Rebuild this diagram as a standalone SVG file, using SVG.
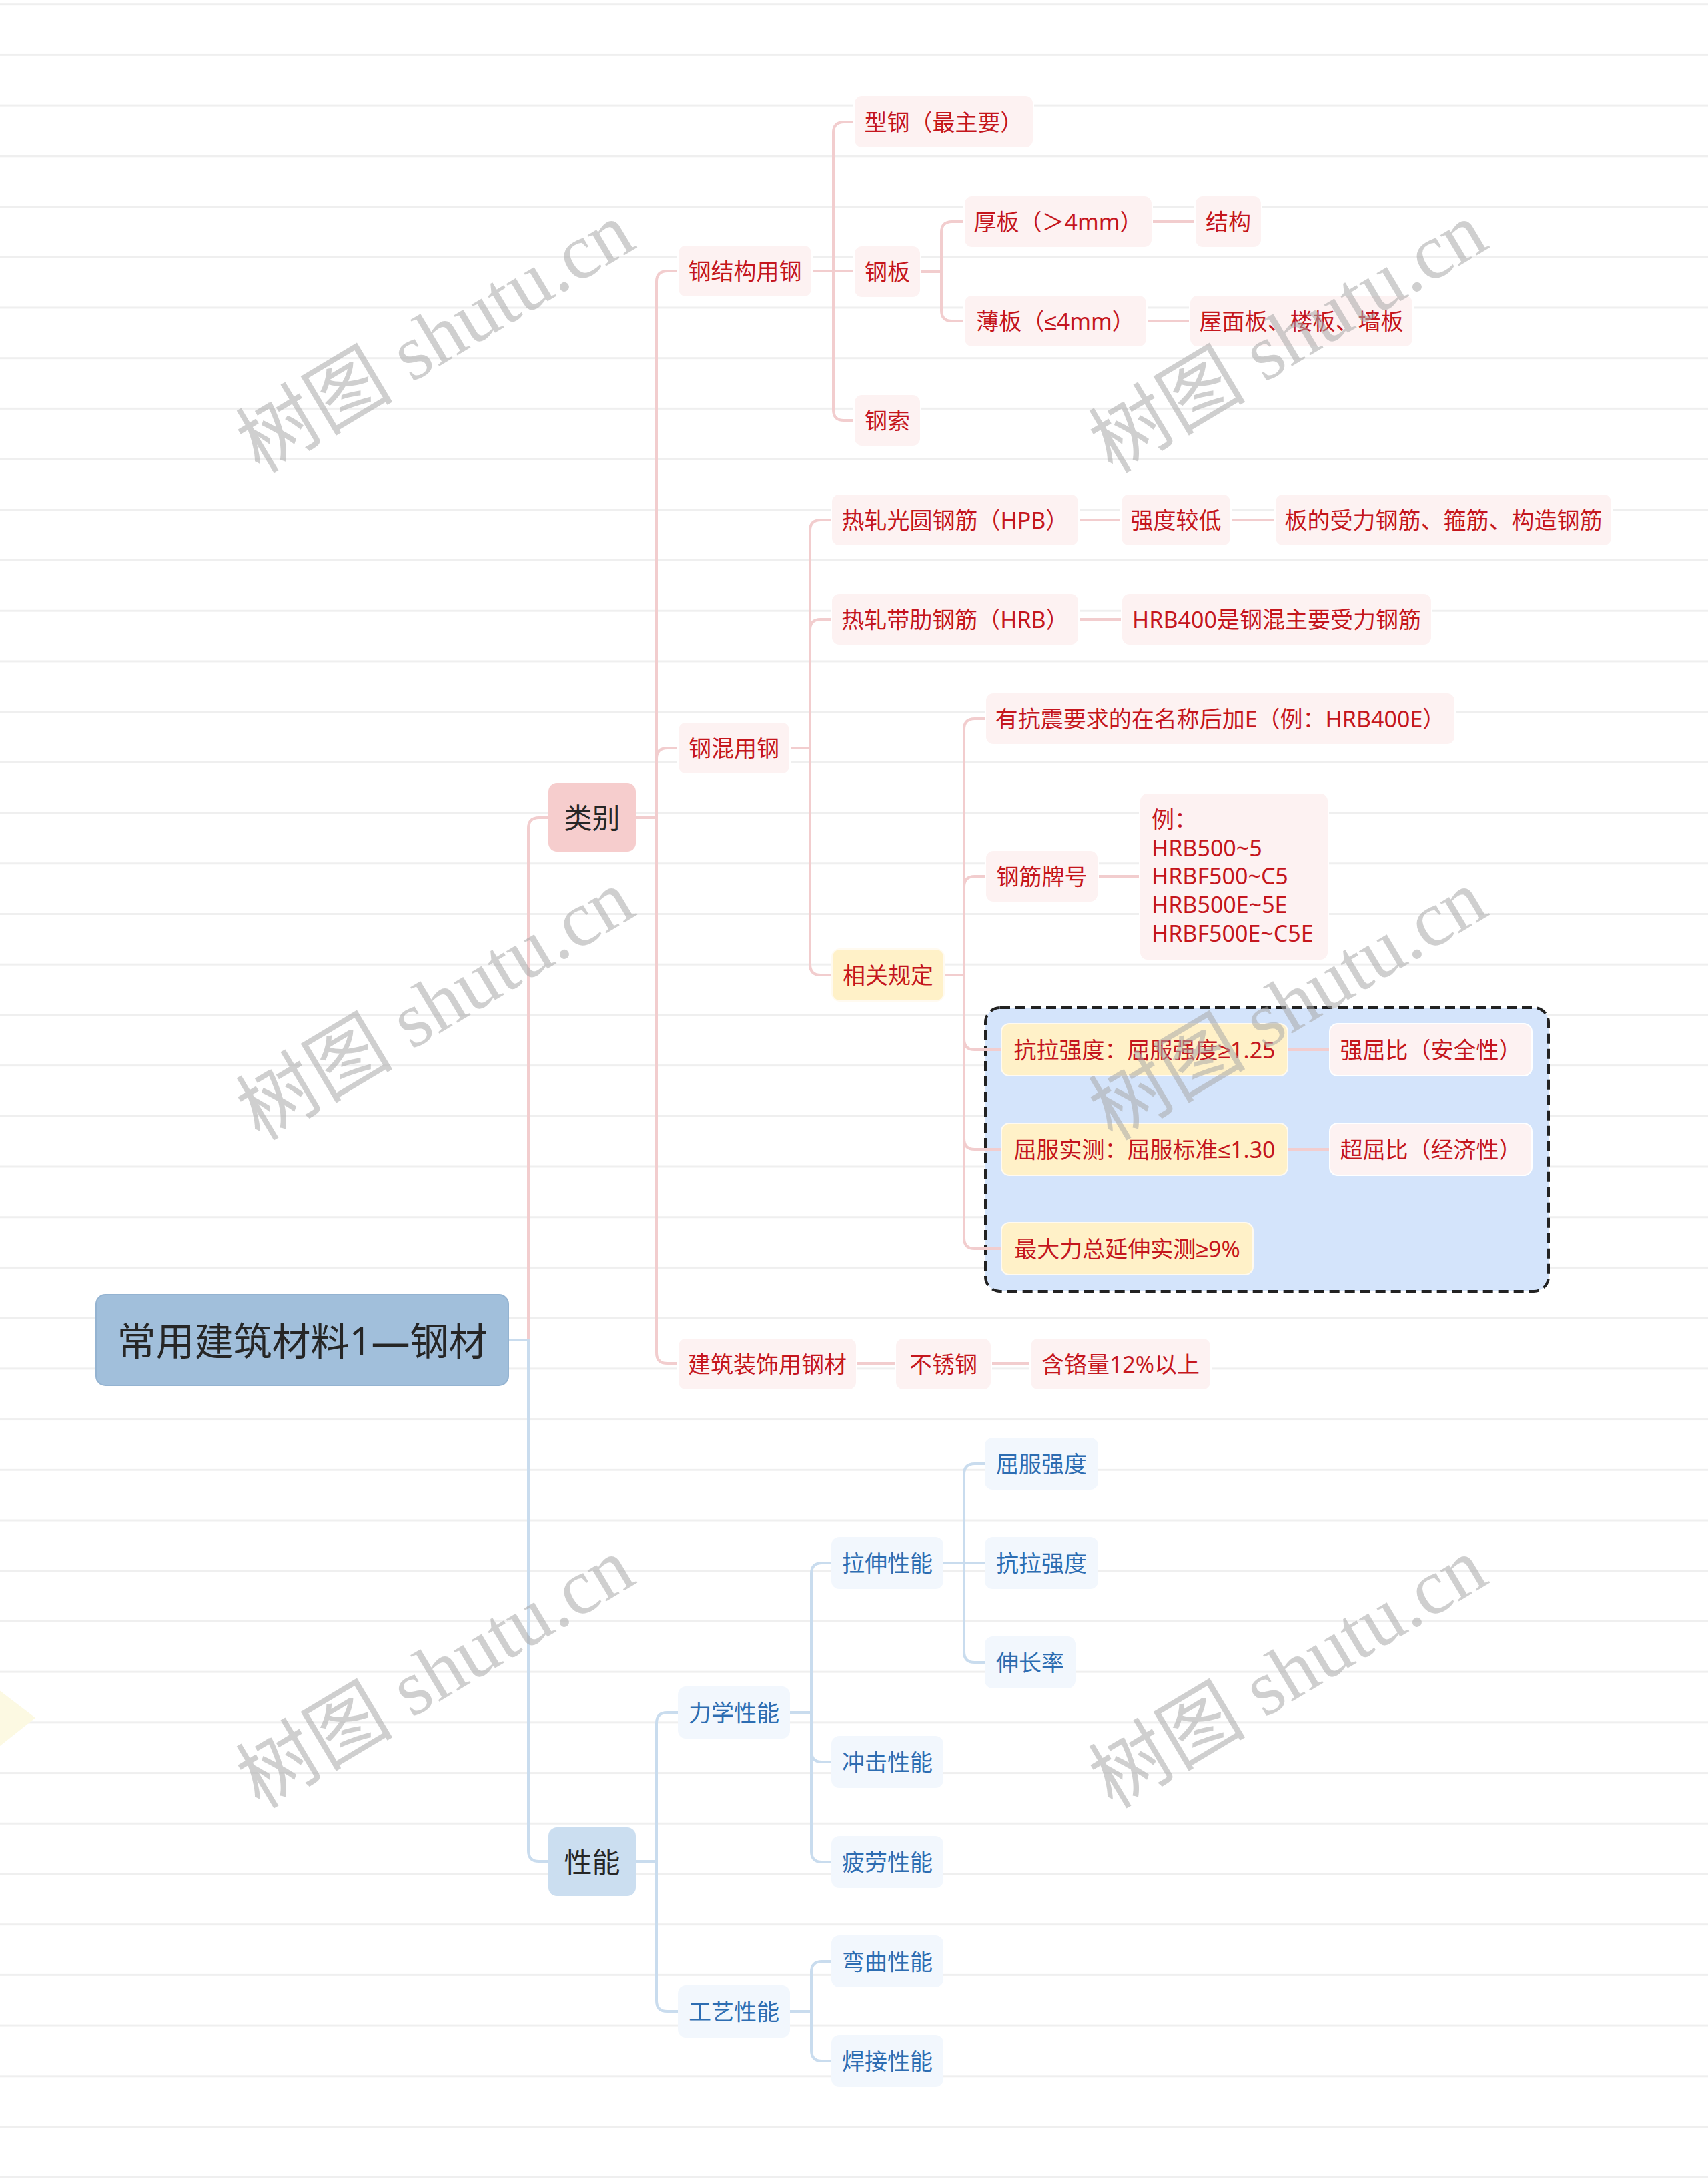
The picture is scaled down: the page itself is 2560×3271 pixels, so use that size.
<svg xmlns="http://www.w3.org/2000/svg" width="2560" height="3271" viewBox="0 0 2560 3271">
<defs>
<pattern id="rows" patternUnits="userSpaceOnUse" x="0" y="5.2" width="2560" height="75.71">
<rect x="0" y="0" width="2560" height="3" fill="#efefef"/>
</pattern>
<style>
text{font-family:"Noto Sans","Liberation Sans","Noto Sans CJK SC",sans-serif;dominant-baseline:central;text-anchor:middle}
.f34{font-size:34px}
.r{fill:#c5161d}
.b{fill:#2d6db2}
.k{fill:#262626}
.np{fill:#fdf2f2;stroke:#ffffff;stroke-width:2}
.ny{fill:#fff1c8;stroke:#fffaf0;stroke-width:2}
.nb{fill:#f2f7fd}
.cr{fill:none;stroke:#f2cdce;stroke-width:4}
.cb{fill:none;stroke:#c9dcee;stroke-width:4}
.wm{font-family:"Liberation Serif","Noto Sans CJK SC",serif;font-size:118px;fill:#a8a8a8;fill-opacity:0.55;text-anchor:middle;dominant-baseline:alphabetic}
</style>
</defs>
<g id="background">
<rect x="0" y="0" width="2560" height="3271" fill="#ffffff"/>
<rect x="0" y="0" width="2560" height="3271" fill="url(#rows)"/>
<polygon points="-10,2526 53,2574 -10,2624" fill="#fcf9e2"/>
</g>
<g id="group-box">
<rect x="1477" y="1510" width="844" height="425" rx="22" fill="#d4e4fb" stroke="#222222" stroke-width="4" stroke-dasharray="15 8"/>
</g>
<g id="connectors">
<path class="cr" d="M792 2008 V1241 Q792 1225 808 1225 H822"/>
<path class="cb" d="M762 2008 H792 V2773 Q792 2789 808 2789 H822"/>
<path class="cr" d="M953 1225 H984 V422 Q984 406 1000 406 H1016"/>
<path class="cr" d="M984 1225 V1137 Q984 1121 1000 1121 H1016"/>
<path class="cr" d="M984 1225 V2027 Q984 2043 1000 2043 H1016"/>
<path class="cr" d="M1217 406 H1249 V199 Q1249 183 1265 183 H1280"/>
<path class="cr" d="M1249 406 H1280"/>
<path class="cr" d="M1249 406 V614 Q1249 630 1265 630 H1280"/>
<path class="cr" d="M1380 407 H1411 V348 Q1411 332 1427 332 H1445"/>
<path class="cr" d="M1411 407 V465 Q1411 481 1427 481 H1445"/>
<path class="cr" d="M1727 332 H1791"/>
<path class="cr" d="M1719 481 H1783"/>
<path class="cr" d="M1184 1121 H1214 V795 Q1214 779 1230 779 H1246"/>
<path class="cr" d="M1214 1121 V944 Q1214 928 1230 928 H1246"/>
<path class="cr" d="M1214 1121 V1445 Q1214 1461 1230 1461 H1247"/>
<path class="cr" d="M1617 779 H1680"/>
<path class="cr" d="M1845 779 H1911"/>
<path class="cr" d="M1617 928 H1681"/>
<path class="cr" d="M1415 1461 H1445 V1093 Q1445 1077 1461 1077 H1477"/>
<path class="cr" d="M1445 1461 V1329 Q1445 1313 1461 1313 H1477"/>
<path class="cr" d="M1445 1461 V1557 Q1445 1573 1461 1573 H1501"/>
<path class="cr" d="M1445 1461 V1706 Q1445 1722 1461 1722 H1501"/>
<path class="cr" d="M1445 1461 V1855 Q1445 1871 1461 1871 H1501"/>
<path class="cr" d="M1646 1313 H1708"/>
<path class="cr" d="M1930 1573 H1993"/>
<path class="cr" d="M1930 1722 H1993"/>
<path class="cr" d="M1284 2043 H1342"/>
<path class="cr" d="M1486 2043 H1544"/>
<path class="cb" d="M953 2789 H984 V2582 Q984 2566 1000 2566 H1016"/>
<path class="cb" d="M984 2789 V2998 Q984 3014 1000 3014 H1016"/>
<path class="cb" d="M1184 2566 H1216 V2358 Q1216 2342 1232 2342 H1246"/>
<path class="cb" d="M1216 2566 V2624 Q1216 2640 1232 2640 H1246"/>
<path class="cb" d="M1216 2566 V2774 Q1216 2790 1232 2790 H1246"/>
<path class="cb" d="M1414 2342 H1445 V2209 Q1445 2193 1461 2193 H1476"/>
<path class="cb" d="M1445 2342 H1476"/>
<path class="cb" d="M1445 2342 V2475 Q1445 2491 1461 2491 H1476"/>
<path class="cb" d="M1184 3014 H1216 V2955 Q1216 2939 1232 2939 H1246"/>
<path class="cb" d="M1216 3014 V3072 Q1216 3088 1232 3088 H1246"/>
</g>
<g id="root"><rect x="144" y="1940" width="618" height="136" rx="14" fill="#a1bfdb" stroke="#94b3d1" stroke-width="2"/><text x="453" y="2008" class="k" style="font-size:58px">常用建筑材料1—钢材</text></g>
<g id="leibie"><rect x="822" y="1173" width="131" height="103" rx="13" fill="#f6cdcd"/><text x="887.5" y="1224.5" class="k" style="font-size:42px">类别</text></g>
<g id="xingneng"><rect x="822" y="2738" width="131" height="103" rx="13" fill="#cbdef0"/><text x="887.5" y="2789.5" class="k" style="font-size:42px">性能</text></g>
<g id="n-gjg"><rect class="np" x="1016" y="367" width="201" height="78" rx="12"/><text class="r f34" x="1116.5" y="406">钢结构用钢</text></g>
<g id="n-xg"><rect class="np" x="1280" y="143" width="269" height="79" rx="12"/><text class="r f34" x="1414.5" y="182.5">型钢（最主要）</text></g>
<g id="n-gb"><rect class="np" x="1280" y="368" width="100" height="78" rx="12"/><text class="r f34" x="1330" y="407">钢板</text></g>
<g id="n-hb"><rect class="np" x="1445" y="293" width="282" height="78" rx="12"/><text class="r f34" x="1586" y="332">厚板（＞4mm）</text></g>
<g id="n-jg"><rect class="np" x="1791" y="293" width="100" height="78" rx="12"/><text class="r f34" x="1841" y="332">结构</text></g>
<g id="n-bb"><rect class="np" x="1445" y="442" width="274" height="78" rx="12"/><text class="r f34" x="1582" y="481">薄板（≤4mm）</text></g>
<g id="n-wmb"><rect class="np" x="1783" y="442" width="335" height="78" rx="12"/><text class="r f34" x="1950.5" y="481">屋面板、楼板、墙板</text></g>
<g id="n-gs"><rect class="np" x="1280" y="591" width="100" height="78" rx="12"/><text class="r f34" x="1330" y="630">钢索</text></g>
<g id="n-ghyg"><rect class="np" x="1016" y="1082" width="168" height="78" rx="12"/><text class="r f34" x="1100" y="1121">钢混用钢</text></g>
<g id="n-hpb"><rect class="np" x="1246" y="740" width="371" height="78" rx="12"/><text class="r f34" x="1431.5" y="779">热轧光圆钢筋（HPB）</text></g>
<g id="n-qdjd"><rect class="np" x="1680" y="740" width="165" height="78" rx="12"/><text class="r f34" x="1762.5" y="779">强度较低</text></g>
<g id="n-bsl"><rect class="np" x="1911" y="740" width="505" height="78" rx="12"/><text class="r f34" x="2163.5" y="779">板的受力钢筋、箍筋、构造钢筋</text></g>
<g id="n-hrb"><rect class="np" x="1246" y="889" width="371" height="78" rx="12"/><text class="r f34" x="1431.5" y="928">热轧带肋钢筋（HRB）</text></g>
<g id="n-hrb400"><rect class="np" x="1681" y="889" width="465" height="78" rx="12"/><text class="r f34" x="1913.5" y="928">HRB400是钢混主要受力钢筋</text></g>
<g id="n-xggd"><rect class="ny" x="1247" y="1422" width="168" height="78" rx="12"/><text class="r f34" x="1331" y="1461">相关规定</text></g>
<g id="n-kz"><rect class="np" x="1477" y="1038" width="704" height="78" rx="12"/><text class="r f34" x="1829" y="1077">有抗震要求的在名称后加E（例：HRB400E）</text></g>
<g id="n-gjph"><rect class="np" x="1477" y="1274" width="169" height="78" rx="12"/><text class="r f34" x="1561.5" y="1313">钢筋牌号</text></g>
<g id="n-li"><rect class="np" x="1708" y="1188" width="283" height="251" rx="12"/>
<text class="r f34" x="1726" y="1227" style="text-anchor:start">例：</text>
<text class="r f34" x="1726" y="1270" style="text-anchor:start">HRB500~5</text>
<text class="r f34" x="1726" y="1312" style="text-anchor:start">HRBF500~C5</text>
<text class="r f34" x="1726" y="1355" style="text-anchor:start">HRB500E~5E</text>
<text class="r f34" x="1726" y="1398" style="text-anchor:start">HRBF500E~C5E</text></g>
<g id="n-klqd"><rect class="ny" x="1501" y="1534" width="429" height="78" rx="12"/><text class="r f34" x="1715.5" y="1573">抗拉强度：屈服强度≥1.25</text></g>
<g id="n-qqb"><rect class="np" x="1993" y="1534" width="303" height="78" rx="12"/><text class="r f34" x="2144.5" y="1573">强屈比（安全性）</text></g>
<g id="n-qfsc"><rect class="ny" x="1501" y="1683" width="429" height="78" rx="12"/><text class="r f34" x="1715.5" y="1722">屈服实测：屈服标准≤1.30</text></g>
<g id="n-cqb"><rect class="np" x="1993" y="1683" width="303" height="78" rx="12"/><text class="r f34" x="2144.5" y="1722">超屈比（经济性）</text></g>
<g id="n-zdl"><rect class="ny" x="1501" y="1832" width="377" height="78" rx="12"/><text class="r f34" x="1689.5" y="1871">最大力总延伸实测≥9%</text></g>
<g id="n-jzzs"><rect class="np" x="1016" y="2005" width="268" height="78" rx="12"/><text class="r f34" x="1150" y="2044">建筑装饰用钢材</text></g>
<g id="n-bxg"><rect class="np" x="1342" y="2005" width="144" height="78" rx="12"/><text class="r f34" x="1414" y="2044">不锈钢</text></g>
<g id="n-hgl"><rect class="np" x="1544" y="2005" width="271" height="78" rx="12"/><text class="r f34" x="1679.5" y="2044">含铬量12%以上</text></g>
<g id="n-lxxn"><rect class="nb" x="1016" y="2527" width="168" height="78" rx="12"/><text class="b f34" x="1100" y="2566">力学性能</text></g>
<g id="n-gyxn"><rect class="nb" x="1016" y="2975" width="168" height="78" rx="12"/><text class="b f34" x="1100" y="3014">工艺性能</text></g>
<g id="n-lsxn"><rect class="nb" x="1246" y="2303" width="168" height="78" rx="12"/><text class="b f34" x="1330" y="2342">拉伸性能</text></g>
<g id="n-cjxn"><rect class="nb" x="1246" y="2601" width="168" height="78" rx="12"/><text class="b f34" x="1330" y="2640">冲击性能</text></g>
<g id="n-plxn"><rect class="nb" x="1246" y="2751" width="168" height="78" rx="12"/><text class="b f34" x="1330" y="2790">疲劳性能</text></g>
<g id="n-wqxn"><rect class="nb" x="1246" y="2900" width="168" height="78" rx="12"/><text class="b f34" x="1330" y="2939">弯曲性能</text></g>
<g id="n-hjxn"><rect class="nb" x="1246" y="3049" width="168" height="78" rx="12"/><text class="b f34" x="1330" y="3088">焊接性能</text></g>
<g id="n-qfqd"><rect class="nb" x="1476" y="2154" width="170" height="78" rx="12"/><text class="b f34" x="1561" y="2193">屈服强度</text></g>
<g id="n-klqd2"><rect class="nb" x="1476" y="2303" width="170" height="78" rx="12"/><text class="b f34" x="1561" y="2342">抗拉强度</text></g>
<g id="n-scl"><rect class="nb" x="1476" y="2452" width="136" height="78" rx="12"/><text class="b f34" x="1544" y="2491">伸长率</text></g>
<g id="watermarks">
<text class="wm" transform="rotate(-31 673 540)" x="673" y="540">树图 shutu.cn</text>
<text class="wm" transform="rotate(-31 1951 540)" x="1951" y="540">树图 shutu.cn</text>
<text class="wm" transform="rotate(-31 673 1540)" x="673" y="1540">树图 shutu.cn</text>
<text class="wm" transform="rotate(-31 1951 1540)" x="1951" y="1540">树图 shutu.cn</text>
<text class="wm" transform="rotate(-31 673 2541)" x="673" y="2541">树图 shutu.cn</text>
<text class="wm" transform="rotate(-31 1951 2541)" x="1951" y="2541">树图 shutu.cn</text>
</g>
</svg>
